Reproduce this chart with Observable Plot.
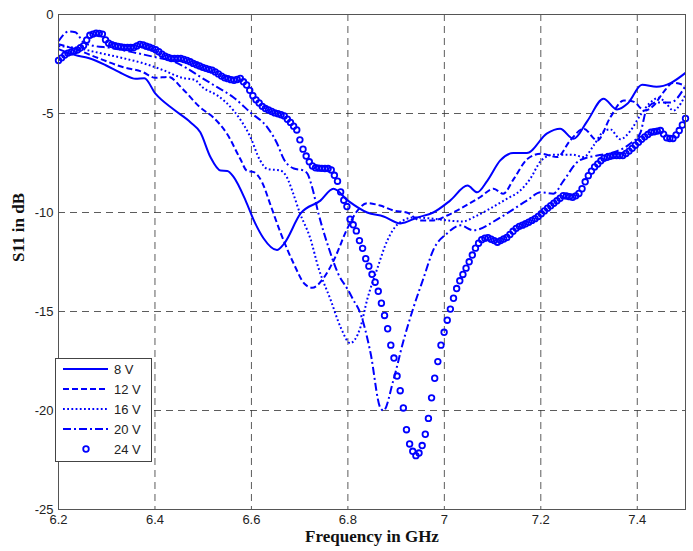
<!DOCTYPE html>
<html>
<head>
<meta charset="utf-8">
<script src="https://cdn.jsdelivr.net/npm/d3@7"></script>
<script src="https://cdn.jsdelivr.net/npm/@observablehq/plot@0.6"></script>
<style>
  body { margin: 0; background: #fff; }
  #chart { width: 693px; height: 551px; }
</style>
</head>
<body>
<div id="chart"></div>
<script>
// ---------- data ----------
const xTicks = [6.2, 6.4, 6.6, 6.8, 7.0, 7.2, 7.4];
const xTickLabels = ["6.2", "6.4", "6.6", "6.8", "7", "7.2", "7.4"];
const yTicks = [0, -5, -10, -15, -20, -25];
const yTickLabels = ["0", "-5", "-10", "-15", "-20", "-25"];
const xGridTicks = [6.4, 6.6, 6.8, 7.0, 7.2, 7.4];
const yGridTicks = [-5, -10, -15, -20];
const seriesLabels = ["8 V", "12 V", "16 V", "20 V", "24 V"];
const xTitle = "Frequency in GHz";
const yTitle = "S11 in dB";

// 8 V (solid)
const f8 = [6.200,6.235,6.262,6.297,6.333,6.360,6.378,6.401,6.439,6.474,6.494,6.515,6.536,6.550,6.563,6.588,6.605,6.625,6.653,6.667,6.702,6.743,6.770,6.800,6.840,6.874,6.909,6.944,6.977,7.012,7.048,7.068,7.089,7.116,7.143,7.171,7.213,7.240,7.268,7.296,7.330,7.358,7.380,7.410,7.440,7.470,7.500];
const s8 = [-1.75,-2.05,-2.2,-2.55,-3.0,-3.25,-3.22,-4.0,-4.8,-5.45,-5.95,-7.2,-7.88,-7.9,-8.2,-9.4,-10.4,-11.3,-11.9,-11.6,-10.05,-9.4,-8.8,-9.4,-10.0,-10.2,-10.55,-10.25,-10.0,-9.4,-8.64,-8.98,-8.4,-7.37,-7.0,-7.0,-6.0,-5.77,-6.28,-5.4,-4.25,-4.8,-4.5,-3.55,-3.65,-3.45,-2.95];

// 12 V (dashed)
const f12 = [6.200,6.235,6.277,6.333,6.374,6.401,6.428,6.457,6.494,6.521,6.550,6.577,6.591,6.605,6.622,6.640,6.660,6.688,6.710,6.726,6.750,6.771,6.800,6.820,6.840,6.867,6.895,6.922,6.950,6.977,7.006,7.026,7.074,7.102,7.122,7.144,7.172,7.200,7.234,7.261,7.289,7.317,7.344,7.372,7.392,7.415,7.434,7.454,7.475,7.500];
const s12 = [-1.5,-1.75,-2.15,-2.65,-2.9,-3.2,-3.15,-3.75,-4.7,-5.2,-6.05,-7.3,-7.9,-7.96,-8.47,-9.65,-11.0,-12.6,-13.6,-13.8,-13.3,-12.4,-10.75,-9.9,-9.53,-9.65,-9.9,-10.0,-10.4,-10.4,-10.15,-9.9,-9.23,-8.8,-9.05,-8.3,-7.3,-7.03,-7.2,-6.36,-5.77,-6.36,-5.2,-4.34,-4.4,-4.85,-4.6,-3.93,-3.45,-3.6];

// 16 V (dotted)
const f16 = [6.200,6.241,6.277,6.333,6.374,6.416,6.457,6.482,6.500,6.530,6.563,6.598,6.618,6.633,6.660,6.672,6.686,6.700,6.722,6.739,6.764,6.785,6.805,6.815,6.826,6.840,6.860,6.882,6.903,6.936,6.971,7.006,7.039,7.060,7.095,7.130,7.157,7.178,7.200,7.226,7.265,7.289,7.310,7.330,7.344,7.365,7.385,7.406,7.427,7.445,7.460,7.475,7.490,7.500];
const s16 = [-1.6,-1.7,-1.9,-2.2,-2.45,-2.8,-3.2,-3.3,-3.7,-4.1,-4.85,-6.2,-7.37,-7.8,-7.88,-8.15,-9.0,-10.0,-11.3,-12.8,-14.4,-15.8,-16.6,-16.4,-15.8,-14.4,-12.9,-11.4,-10.6,-10.25,-10.3,-10.4,-10.45,-10.25,-9.8,-9.3,-8.9,-8.3,-7.4,-7.08,-7.08,-7.2,-6.6,-5.9,-5.8,-6.3,-5.9,-5.1,-4.45,-4.2,-4.5,-4.85,-4.5,-4.05];

// 20 V (dash-dot)
const f20 = [6.200,6.221,6.235,6.252,6.277,6.304,6.353,6.400,6.436,6.465,6.494,6.529,6.563,6.598,6.633,6.653,6.667,6.688,6.708,6.716,6.726,6.739,6.760,6.780,6.800,6.811,6.826,6.847,6.867,6.874,6.894,6.915,6.936,6.957,6.977,7.006,7.033,7.060,7.116,7.171,7.200,7.226,7.247,7.280,7.317,7.350,7.385,7.406,7.420,7.440,7.469,7.500];
const s20 = [-1.35,-0.86,-0.9,-1.4,-1.6,-1.67,-1.9,-2.15,-2.35,-2.7,-3.15,-3.67,-4.19,-4.95,-5.7,-6.5,-7.3,-7.78,-7.88,-8.03,-8.74,-10.05,-11.77,-13.1,-13.9,-14.4,-15.1,-17.1,-19.85,-20.0,-18.5,-16.5,-14.8,-13.3,-11.9,-11.05,-10.65,-10.9,-10.25,-9.4,-8.98,-9.05,-8.4,-7.37,-7.12,-6.97,-6.53,-6.0,-4.75,-4.44,-4.44,-3.6];

// 24 V (circle markers), one value per sweep point: 6.2 GHz to 7.5 GHz, 201 points
const sweepStart = 6.2, sweepStep = 0.0065;
const s24 = [
-2.32,-2.19,-2.05,-1.95,-1.90,-1.85,-1.79,-1.68,-1.57,-1.29,
-1.05,-0.99,-0.94,-0.96,-0.99,-1.28,-1.45,-1.52,-1.58,-1.61,
-1.64,-1.67,-1.67,-1.67,-1.67,-1.59,-1.51,-1.54,-1.60,-1.65,
-1.71,-1.78,-1.88,-2.00,-2.10,-2.17,-2.22,-2.22,-2.22,-2.22,
-2.27,-2.32,-2.39,-2.47,-2.54,-2.60,-2.67,-2.72,-2.77,-2.81,
-2.90,-3.00,-3.11,-3.20,-3.24,-3.29,-3.32,-3.28,-3.23,-3.40,
-3.56,-3.83,-4.10,-4.31,-4.47,-4.64,-4.75,-4.82,-4.90,-4.97,
-5.01,-5.06,-5.12,-5.29,-5.45,-5.64,-5.83,-6.33,-6.80,-7.15,
-7.44,-7.65,-7.74,-7.76,-7.77,-7.78,-7.78,-7.85,-8.12,-8.42,
-8.96,-9.38,-9.70,-10.34,-10.62,-10.93,-11.42,-11.81,-12.33,-12.71,
-13.12,-13.52,-13.98,-14.58,-15.20,-15.87,-16.70,-17.35,-18.26,-19.00,
-19.87,-20.97,-21.69,-22.06,-22.28,-22.15,-21.77,-21.20,-20.40,-19.36,
-18.37,-17.53,-16.70,-16.05,-15.44,-14.88,-14.33,-13.84,-13.45,-13.13,
-12.81,-12.49,-12.15,-11.80,-11.55,-11.37,-11.30,-11.27,-11.35,-11.42,
-11.50,-11.42,-11.34,-11.26,-11.11,-10.95,-10.80,-10.70,-10.64,-10.57,
-10.49,-10.40,-10.31,-10.20,-10.06,-9.92,-9.78,-9.66,-9.53,-9.41,
-9.28,-9.15,-9.17,-9.20,-9.23,-9.16,-9.04,-8.80,-8.45,-8.14,
-7.91,-7.70,-7.55,-7.39,-7.26,-7.21,-7.16,-7.12,-7.12,-7.12,
-7.12,-7.02,-6.90,-6.76,-6.60,-6.45,-6.30,-6.18,-6.06,-5.95,
-5.92,-5.89,-5.86,-6.04,-6.23,-6.26,-6.26,-6.08,-5.86,-5.58,
-5.25];

// ---------- build ----------
const BLUE = "#0000ff";
const rows = (f, s) => f.map((x, i) => ({x, y: s[i]}));
const rows24 = s24.map((y, i) => ({x: sweepStart + i * sweepStep, y}));

const lineStyles = [
  {data: rows(f8, s8), dash: null},
  {data: rows(f12, s12), dash: "6,3"},
  {data: rows(f16, s16), dash: "1.8,2.4"},
  {data: rows(f20, s20), dash: "8,3,2,3"}
];

const chart = Plot.plot({
  width: 693,
  height: 551,
  marginLeft: 58,
  marginRight: 8,
  marginTop: 14,
  marginBottom: 42,
  x: {domain: [6.2, 7.5]},
  y: {domain: [-25, 0]},
  style: {fontFamily: "'Liberation Sans', Arial, sans-serif", fontSize: "13px", color: "#222", background: "#fff", overflow: "visible"},
  marks: [
    Plot.gridX(xGridTicks, {stroke: "#333", strokeOpacity: 0.8, strokeWidth: 1, strokeDasharray: "7,5"}),
    Plot.gridY(yGridTicks, {stroke: "#333", strokeOpacity: 0.8, strokeWidth: 1, strokeDasharray: "7,5"}),
    ...lineStyles.map(s => Plot.line(s.data, {
      x: "x", y: "y", stroke: BLUE, strokeWidth: 2, curve: "monotone-x",
      strokeDasharray: s.dash, strokeLinecap: "butt"
    })),
    Plot.dot(rows24, {x: "x", y: "y", r: 2.8, stroke: BLUE, strokeWidth: 1.8, fill: "none"}),
    Plot.frame({stroke: "#555", strokeWidth: 1}),
    Plot.axisX(xTicks, {tickSize: 0, tickPadding: 5, label: null,
      tickFormat: d => xTickLabels[xTicks.indexOf(d)]}),
    Plot.axisY(yTicks, {tickSize: 0, tickPadding: 5, label: null,
      tickFormat: d => yTickLabels[yTicks.indexOf(d)]}),
    Plot.text([xTitle], {text: d => d, frameAnchor: "bottom", dy: 32,
      fontFamily: "'Liberation Serif', 'Times New Roman', serif", fontWeight: "bold", fontSize: 17, fill: "#111"}),
    Plot.text([yTitle], {text: d => d, frameAnchor: "left", dx: -40, rotate: -90,
      fontFamily: "'Liberation Serif', 'Times New Roman', serif", fontWeight: "bold", fontSize: 17, fill: "#111"})
  ]
});

document.getElementById("chart").appendChild(chart);

// ---------- legend box ----------
const svg = d3.select(chart);
const lg = svg.append("g").attr("text-anchor", "start");
lg.append("rect").attr("x", 55.5).attr("y", 358.5).attr("width", 96).attr("height", 103)
  .attr("fill", "#fff").attr("stroke", "#444").attr("stroke-width", 1);
const legendDash = [null, "6,3", "1.8,2.4", "8,3,2,3"];
seriesLabels.forEach((lab, i) => {
  const yy = 369 + 20 * i;
  if (i < 4) {
    lg.append("line").attr("x1", 63).attr("x2", 108).attr("y1", yy).attr("y2", yy)
      .attr("stroke", BLUE).attr("stroke-width", 2)
      .attr("stroke-dasharray", legendDash[i]);
  } else {
    lg.append("circle").attr("cx", 86).attr("cy", yy).attr("r", 2.8)
      .attr("fill", "none").attr("stroke", BLUE).attr("stroke-width", 1.8);
  }
  lg.append("text").attr("x", 114).attr("y", yy).attr("dy", "0.35em")
    .attr("text-anchor", "start")
    .attr("font-family", "'Liberation Sans', Arial, sans-serif").attr("font-size", 13)
    .attr("fill", "#222").text(lab);
});
</script>
</body>
</html>
